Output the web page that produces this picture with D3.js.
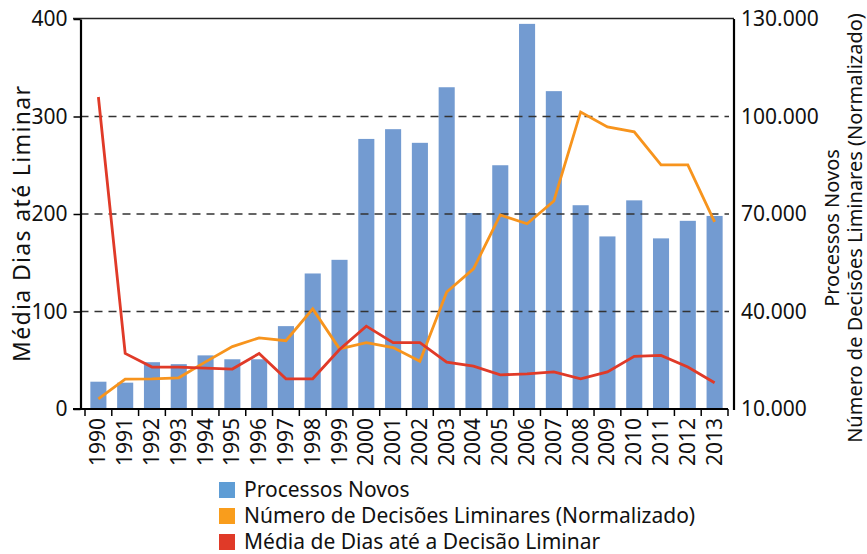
<!doctype html>
<html>
<head>
<meta charset="utf-8">
<title>Processos Novos e Decisões Liminares</title>
<script src="https://cdnjs.cloudflare.com/ajax/libs/d3/7.8.5/d3.min.js"></script>
<style>
body { margin: 0; background: #fff; }
svg text { font-family: "Noto Sans", "Open Sans", sans-serif; fill: #111; }
.grid line { stroke: #333; stroke-width: 1.4; stroke-dasharray: 8,6; }
</style>
</head>
<body>
<div id="chart"></div>
<script>
// anos e séries
var years = ["1990","1991","1992","1993","1994","1995","1996","1997","1998","1999","2000","2001",
             "2002","2003","2004","2005","2006","2007","2008","2009","2010","2011","2012","2013"];

// Processos Novos (eixo da esquerda, 0-400)
var novos = [28, 27, 48, 46, 55, 51, 51, 85, 139, 153, 277, 287,
             273, 330, 201, 250, 395, 326, 209, 177, 214, 175, 193, 198];

// Número de Decisões Liminares (Normalizado) - eixo da direita
var decisoes = [13100, 19200, 19300, 19600, 24500, 29200, 31900, 31000, 40800, 28500, 30400, 28900,
                24700, 46000, 53100, 69700, 67000, 74000, 101400, 96800, 95300, 85100, 85100, 67600];

// Média de Dias até a Decisão Liminar (eixo da esquerda)
var dias = [320, 57, 43, 43, 42, 41, 57, 31, 31, 61, 85, 68,
            68, 48, 44, 35, 36, 38, 31, 38, 54, 55, 43, 27];

var leftTicks = [0, 100, 200, 300, 400];
var rightTicks = [10000, 40000, 70000, 100000, 130000];
var legendNames = ["Processos Novos", "Número de Decisões Liminares (Normalizado)", "Média de Dias até a Decisão Liminar"];
var legendColors = ["#5f9dd5", "#f99d1c", "#e03a28"];

var W = 867, H = 554;
var plotL = 80.5, plotR = 734, plotT = 19, plotB = 409;

var svg = d3.select("#chart").append("svg")
    .attr("width", W)
    .attr("height", H);

var x = d3.scaleBand()
    .domain(years)
    .range([85, 728])
    .paddingInner(0.4)
    .paddingOuter(0.2);

var yL = d3.scaleLinear().domain([0, 400]).range([plotB, plotT]);
var yR = d3.scaleLinear().domain([10000, 130000]).range([plotB, plotT]);

var ptFmt = d3.formatLocale({decimal: ",", thousands: ".", grouping: [3], currency: ["", ""]}).format(",");

// barras
svg.append("g").selectAll("rect")
    .data(novos)
    .enter().append("rect")
    .attr("x", function(d, i) { return x(years[i]); })
    .attr("y", function(d) { return yL(d); })
    .attr("width", x.bandwidth())
    .attr("height", function(d) { return plotB - yL(d); })
    .attr("fill", "#739bd1");

// grade tracejada
svg.append("g").attr("class", "grid")
    .selectAll("line")
    .data([100, 200, 300])
    .enter().append("line")
    .attr("x1", plotL).attr("x2", 729)
    .attr("y1", function(d) { return yL(d); })
    .attr("y2", function(d) { return yL(d); });

// linha de topo
svg.append("line")
    .attr("x1", 73).attr("x2", plotR)
    .attr("y1", plotT - 0.5).attr("y2", plotT - 0.5)
    .attr("stroke", "#222").attr("stroke-width", 1.5);

// linhas
var cx = function(d, i) { return x(years[i]) + x.bandwidth() / 2; };

svg.append("path")
    .datum(decisoes)
    .attr("fill", "none")
    .attr("stroke", "#f7941d")
    .attr("stroke-width", 2.8)
    .attr("d", d3.line().x(cx).y(function(d) { return yR(d); }));

svg.append("path")
    .datum(dias)
    .attr("fill", "none")
    .attr("stroke", "#e03a28")
    .attr("stroke-width", 2.8)
    .attr("d", d3.line().x(cx).y(function(d) { return yL(d); }));

// eixo esquerdo
var axL = svg.append("g")
    .attr("transform", "translate(" + plotL + ",0)")
    .call(d3.axisLeft(yL).tickValues(leftTicks).tickSizeInner(7).tickSizeOuter(0).tickPadding(6));
axL.select(".domain").attr("stroke", "#000").attr("stroke-width", 2.2);
axL.selectAll(".tick line").attr("stroke", "#000").attr("stroke-width", 1.5);
axL.selectAll("text").style("font-size", "21px").attr("fill", "#111");

// eixo direito
var axR = svg.append("g")
    .attr("transform", "translate(" + plotR + ",0)")
    .call(d3.axisRight(yR).tickValues(rightTicks).tickSize(0).tickPadding(7).tickFormat(ptFmt));
axR.select(".domain").attr("stroke", "#000").attr("stroke-width", 2.2)
    .attr("d", "M0," + plotT + "V" + (plotB + 1));
axR.selectAll("text").style("font-size", "21px").attr("fill", "#111");

// eixo inferior
var step = x.step();
var axB = svg.append("g");
axB.append("line")
    .attr("x1", 73).attr("x2", 728)
    .attr("y1", plotB).attr("y2", plotB)
    .attr("stroke", "#000").attr("stroke-width", 2.2);
axB.selectAll(".tk")
    .data(d3.range(years.length + 1))
    .enter().append("line")
    .attr("x1", function(i) { return 85 + i * step; })
    .attr("x2", function(i) { return 85 + i * step; })
    .attr("y1", plotB).attr("y2", plotB + 7)
    .attr("stroke", "#000").attr("stroke-width", 1.5);
axB.selectAll(".yr")
    .data(years)
    .enter().append("text")
    .attr("transform", function(d) {
        return "translate(" + (x(d) + x.bandwidth() / 2 + 7) + "," + (plotB + 9) + ") rotate(-90)";
    })
    .attr("text-anchor", "end")
    .style("font-size", "21px")
    .text(function(d) { return d; });

// títulos dos eixos
svg.append("text")
    .attr("transform", "translate(30,224) rotate(-90)")
    .attr("text-anchor", "middle")
    .attr("textLength", 276)
    .attr("lengthAdjust", "spacing")
    .style("font-size", "23px")
    .text("Média Dias até Liminar");

svg.append("text")
    .attr("transform", "translate(839,228) rotate(-90)")
    .attr("text-anchor", "middle")
    .style("font-size", "20px")
    .text("Processos Novos");

svg.append("text")
    .attr("transform", "translate(862,228) rotate(-90)")
    .attr("text-anchor", "middle")
    .style("font-size", "20px")
    .text("Número de Decisões Liminares (Normalizado)");

// legenda
var lg = svg.append("g").attr("transform", "translate(219,482)");
lg.selectAll("rect")
    .data(legendNames)
    .enter().append("rect")
    .attr("x", 0)
    .attr("y", function(d, i) { return i * 26; })
    .attr("width", 16).attr("height", 16)
    .attr("fill", function(d, i) { return legendColors[i]; });
lg.selectAll("text")
    .data(legendNames)
    .enter().append("text")
    .attr("x", 25)
    .attr("y", function(d, i) { return i * 26 + 15; })
    .style("font-size", "21px")
    .text(function(d) { return d; });
</script>
</body>
</html>
